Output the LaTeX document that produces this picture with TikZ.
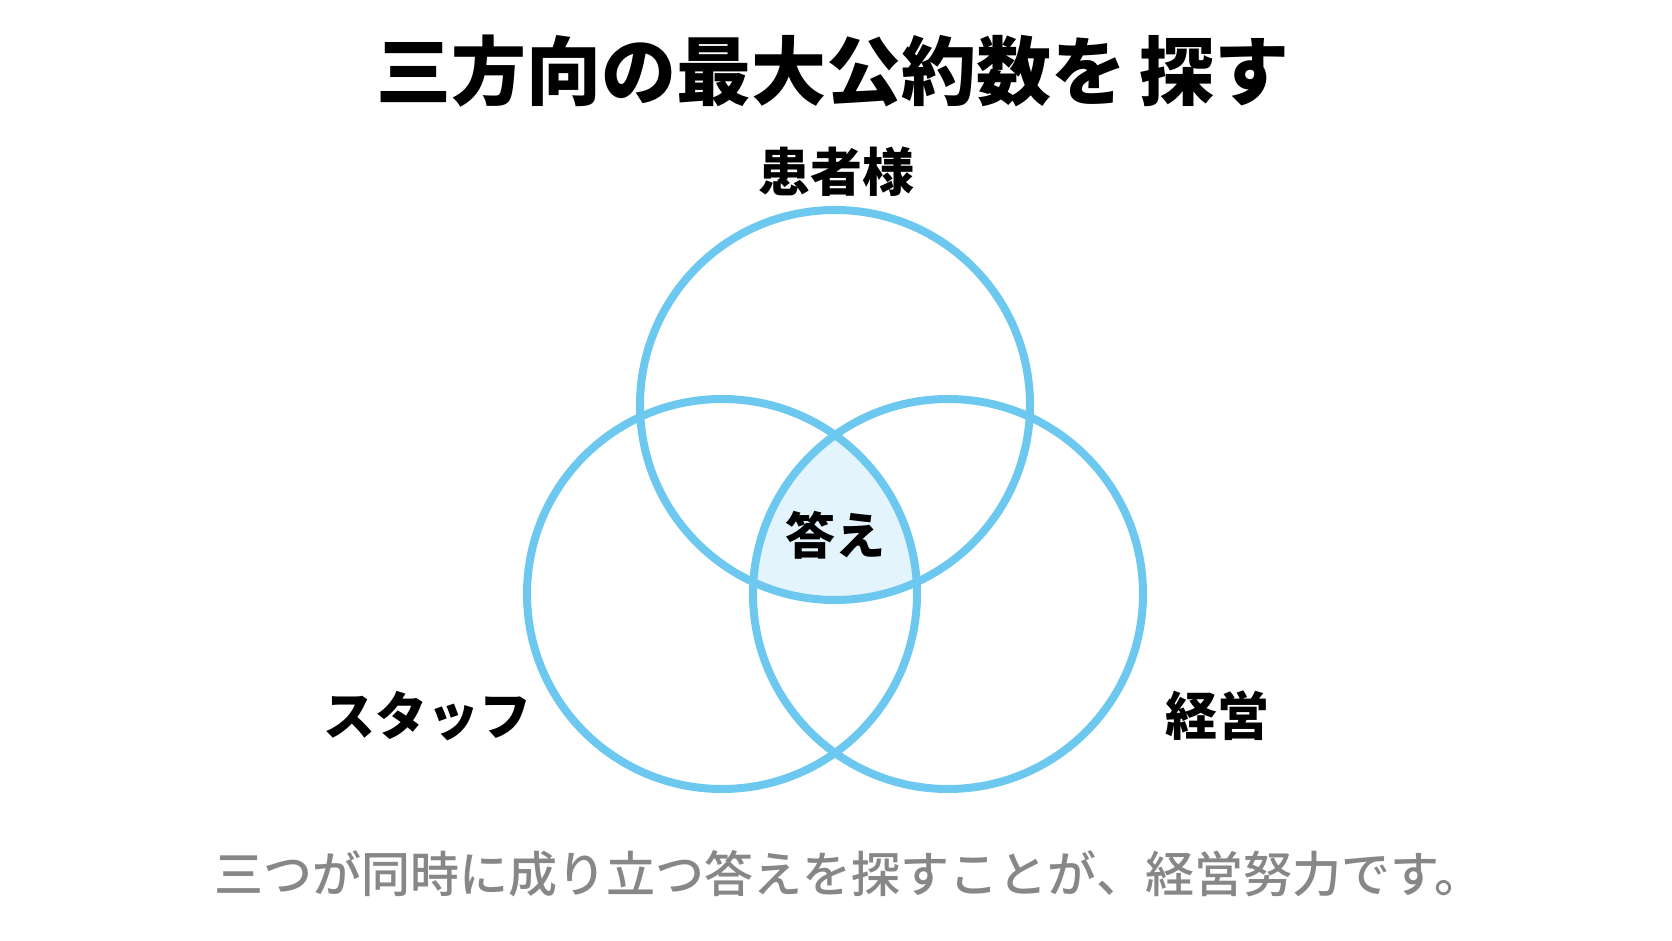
\documentclass[tikz,border=0pt]{standalone}
\usepackage{fontspec}
\newfontfamily\jpfont{Noto Sans CJK JP}
\newfontfamily\jpblack{Noto Sans CJK JP Black}
\newfontfamily\jpmedium{Noto Sans CJK JP Medium}
\usetikzlibrary{calc}

\definecolor{ringblue}{HTML}{6CC8EF}
\definecolor{answerfill}{HTML}{E4F4FC}
\definecolor{notegray}{HTML}{878787}

\tikzset{
  ring/.style={draw=ringblue, line width=8pt},
  circlelabel/.style={inner sep=0pt, font=\jpfont\bfseries\fontsize{52}{60}\selectfont},
}

\begin{document}
\begin{tikzpicture}[x=1pt, y=-1pt]
    \useasboundingbox (0,0) rectangle (1672,941);

    \coordinate (P) at (835,405);
    \coordinate (S) at (722,594);
    \coordinate (M) at (948,594);

    % common part of the three circles
    \begin{scope}
        \clip (P) circle (195);
        \clip (S) circle (195);
        \fill [answerfill] (M) circle (195);
    \end{scope}

    \draw [ring] (P) circle (195);
    \draw [ring] (S) circle (195);
    \draw [ring] (M) circle (195);

    \node [inner sep=0pt, font=\jpblack\fontsize{75}{84}\selectfont] (title) at (833,71) {三方向の最大公約数を\hspace{14pt}探す};

    \node [circlelabel] (patient) at (836,172) {患者様};
    \node [circlelabel] (staff) at (427,716) {スタッフ};
    \node [circlelabel] (manage) at (1217,716) {経営};
    \node [circlelabel, font=\jpfont\bfseries\fontsize{50}{58}\selectfont] (answer) at (835,535) {答え};

    \node [inner sep=0pt, text=notegray, font=\jpmedium\fontsize{49}{56}\selectfont] (note) at (849,874) {三つが同時に成り立つ答えを探すことが、経営努力です。};
\end{tikzpicture}
\end{document}
